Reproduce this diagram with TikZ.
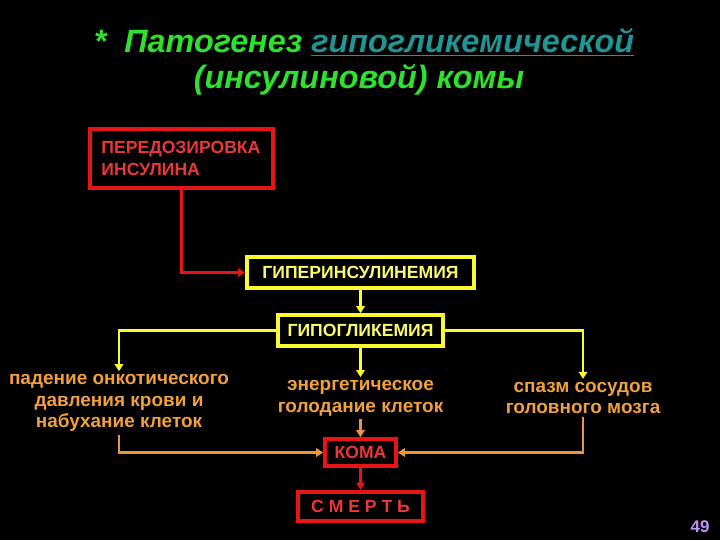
\documentclass[tikz,border=0pt]{standalone}
\usepackage{fontspec}
\setmainfont{Liberation Sans}
\usetikzlibrary{arrows.meta}

\definecolor{titlegreen}{RGB}{45,225,45}
\definecolor{titleteal}{RGB}{30,150,150}
\definecolor{boxred}{RGB}{230,20,20}
\definecolor{textred}{RGB}{235,55,55}
\definecolor{boxyellow}{RGB}{250,250,45}
\definecolor{textyellow}{RGB}{250,250,110}
\definecolor{lineorange}{RGB}{235,150,60}
\definecolor{textorange}{RGB}{240,160,60}
\definecolor{pagenum}{RGB}{195,145,245}

\tikzset{
  boxfont/.style={font=\bfseries\fontsize{12.5}{15.2}\selectfont},
  redbox/.style={boxfont, draw=boxred, line width=2.6pt, text=textred, inner sep=0pt},
  yellowbox/.style={boxfont, draw=boxyellow, line width=2.6pt, text=textyellow, inner sep=0pt},
  effect/.style={font=\bfseries\fontsize{13.5}{15.4}\selectfont, text=textorange, align=center, inner sep=2pt},
  tip/.style={-{Triangle[length=5pt,width=6pt]}},
  redarrow/.style={tip, draw=boxred, line width=2pt},
  yellowarrow/.style={tip, draw=boxyellow, line width=2pt},
  orangearrow/.style={tip, draw=lineorange, line width=2pt}
}

\begin{document}
\begin{tikzpicture}[x=0.025cm, y=-0.025cm]

  %% ---- BACKGROUND ----
  \fill[black] (0,0) rectangle (720,540);
  \useasboundingbox (0,0) rectangle (720,540);

  %% ---- TITLE ----
  \node[font=\bfseries\itshape\fontsize{23}{27}\selectfont, text=titlegreen] (title1) at (364,42)
    {*\ \ Патогенез \textcolor{titleteal}{\underline{гипогликемической}}};
  \node[font=\bfseries\itshape\fontsize{23}{27}\selectfont, text=titlegreen] (title2) at (359,80)
    {(инсулиновой) комы};

  %% ---- CHAIN ----
  \node[redbox, minimum width=4.575cm, minimum height=1.475cm, inner xsep=0.29cm,
        text width=4.0cm, align=left] (overdose) at (181.5,158.5)
    {ПЕРЕДОЗИРОВКА\\ИНСУЛИНА};
  \node[yellowbox, minimum width=5.675cm, minimum height=0.775cm] (hyperins) at (360.5,272.5)
    {ГИПЕРИНСУЛИНЕМИЯ};
  \node[yellowbox, minimum width=4.125cm, minimum height=0.775cm] (hypogly) at (360.5,330.5)
    {ГИПОГЛИКЕМИЯ};

  %% effects
  \node[effect] (oncotic) at (119,403) {падение онкотического\\давления крови и\\набухание клеток};
  \node[effect] (energy) at (360.5,398) {энергетическое\\голодание клеток};
  \node[effect] (spasm) at (583,398) {спазм сосудов\\головного мозга};

  %% outcome
  \node[redbox, minimum width=1.775cm, minimum height=0.675cm] (coma) at (360.5,452.5) {КОМА};
  \node[redbox, minimum width=3.125cm, minimum height=0.725cm, line width=3.2pt] (death) at (360.5,506.5)
    {С М Е Р Т Ь};

  %% ---- ARROWS ----
  \draw[redarrow] (overdose.south) |- (hyperins.west);
  \draw[yellowarrow] (hyperins) -- (hypogly);
  \draw[yellowarrow] (hypogly.west) -| (oncotic.north);
  \draw[yellowarrow] (hypogly) -- (energy);
  \draw[yellowarrow] (hypogly.east) -| (spasm.north);
  \draw[orangearrow] (energy) -- (coma);
  \draw[orangearrow] (oncotic.south) |- (coma.west);
  \draw[orangearrow] (spasm.south) |- (coma.east);
  \draw[redarrow] (coma) -- (death);

  %% page number
  \node[font=\bfseries\fontsize{12}{14}\selectfont, text=pagenum] (page) at (700,527) {49};

\end{tikzpicture}
\end{document}
